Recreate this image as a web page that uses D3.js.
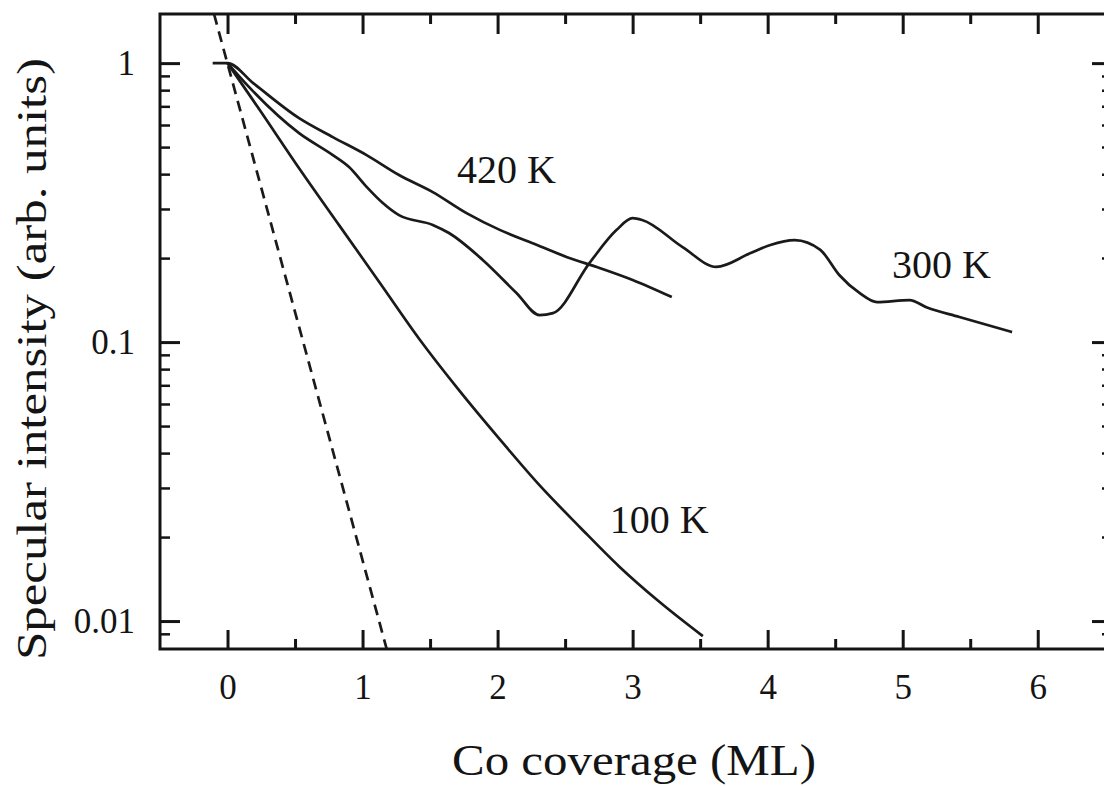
<!DOCTYPE html>
<html>
<head>
<meta charset="utf-8">
<script src="https://cdn.jsdelivr.net/npm/d3@7"></script>
<style>
  html, body { margin: 0; padding: 0; background: #fff; }
  svg { display: block; }
  text { font-family: "Liberation Serif", "Times New Roman", Times, serif; fill: #141414; }
</style>
</head>
<body>
<script>
// Specular intensity vs. Co coverage at three substrate temperatures (log scale)

// 100 K
const coverage100 = [0, 0.24, 0.53, 0.83, 1.13, 1.42, 1.72, 2.02, 2.31, 2.61, 2.9, 3.2, 3.52];
const intensity100 = [1, 0.678, 0.42, 0.261, 0.1625, 0.1026, 0.0667, 0.0446, 0.0307, 0.0217, 0.0157, 0.0117, 0.00883];

// 300 K
const coverage300 = [0, 0.16, 0.53, 0.78, 0.9, 1.03, 1.15, 1.27, 1.52, 1.64, 1.89, 2.14, 2.31, 2.41, 2.68, 2.88, 3.0, 3.07,
                     3.37, 3.62, 3.87, 4.02, 4.2, 4.39, 4.53, 4.68, 4.81, 5.05, 5.18, 5.42, 5.81];
const intensity300 = [1, 0.82, 0.561, 0.468, 0.424, 0.36, 0.315, 0.285, 0.263, 0.246, 0.197, 0.15, 0.125, 0.127, 0.192, 0.252, 0.278, 0.274,
                      0.219, 0.186, 0.208, 0.223, 0.232, 0.214, 0.174, 0.15, 0.139, 0.1415, 0.133, 0.123, 0.1086];

// 420 K
const coverage420 = [-0.11, 0, 0.19, 0.53, 0.78, 1.03, 1.27, 1.52, 1.77, 2.02, 2.26, 2.51, 2.76, 3.0, 3.29];
const intensity420 = [1, 1, 0.848, 0.635, 0.543, 0.468, 0.397, 0.345, 0.29, 0.252, 0.226, 0.202, 0.184, 0.167, 0.145];

// Reference layer-by-layer decay (dashed)
const coverageRef = [-0.1, 1.18];
const intensityRef = [1.5, 0.0079];

// Curve labels
const labelText = ["420 K", "300 K", "100 K"];
const labelCoverage = [1.70, 4.92, 2.83];
const labelIntensity = [0.371, 0.17, 0.0207];

// Ticks
const xMajorTicks = [0, 1, 2, 3, 4, 5, 6];
const xMinorTicks = [0.5, 1.5, 2.5, 3.5, 4.5, 5.5];
const yMajorTicks = [0.01, 0.1, 1];
const yTickLabels = ["0.01", "0.1", "1"];
const yMinorTicks = [0.009, 0.02, 0.03, 0.04, 0.05, 0.06, 0.07, 0.08, 0.09,
                     0.2, 0.3, 0.4, 0.5, 0.6, 0.7, 0.8, 0.9];

const xTitle = "Co coverage (ML)";
const yTitle = "Specular intensity (arb. units)";

const W = 1104, H = 786;
const plot = { left: 160, right: 1112, top: 14, bottom: 649 };

const svg = d3.select("body").append("svg").attr("width", W).attr("height", H);

const x = d3.scaleLinear().domain([-0.5, 6.55]).range([plot.left, plot.right]);
const y = d3.scaleLog().domain([0.00794, 1.5]).range([plot.bottom, plot.top]);

svg.append("defs").append("clipPath").attr("id", "plotArea")
  .append("rect")
  .attr("x", plot.left).attr("y", plot.top)
  .attr("width", plot.right - plot.left).attr("height", plot.bottom - plot.top);

function styleAxis(g, width) {
  g.select(".domain").remove();
  g.selectAll(".tick line").attr("stroke", "#141414").attr("stroke-width", width);
  g.selectAll(".tick text").attr("font-size", 35).attr("fill", "#141414")
    .style("font-family", "'Liberation Serif', 'Times New Roman', serif");
}

// Bottom axis (inward ticks, labelled)
svg.append("g").attr("transform", `translate(0,${plot.bottom})`)
  .call(d3.axisBottom(x).tickValues(xMajorTicks).tickSizeInner(-19).tickSizeOuter(0)
    .tickPadding(25).tickFormat(d3.format("d")))
  .call(g => styleAxis(g, 3));
svg.append("g").attr("transform", `translate(0,${plot.bottom})`)
  .call(d3.axisBottom(x).tickValues(xMinorTicks).tickSizeInner(-10).tickSizeOuter(0).tickFormat(""))
  .call(g => styleAxis(g, 3));

// Top axis (inward ticks, no labels)
svg.append("g").attr("transform", `translate(0,${plot.top})`)
  .call(d3.axisTop(x).tickValues(xMajorTicks).tickSizeInner(-20).tickSizeOuter(0).tickFormat(""))
  .call(g => styleAxis(g, 3));
svg.append("g").attr("transform", `translate(0,${plot.top})`)
  .call(d3.axisTop(x).tickValues(xMinorTicks).tickSizeInner(-10).tickSizeOuter(0).tickFormat(""))
  .call(g => styleAxis(g, 3));

// Left axis (inward ticks, labelled)
svg.append("g").attr("transform", `translate(${plot.left},0)`)
  .call(d3.axisLeft(y).tickValues(yMajorTicks).tickSizeInner(-20).tickSizeOuter(0)
    .tickPadding(25).tickFormat((d, i) => yTickLabels[i]))
  .call(g => styleAxis(g, 3));
svg.append("g").attr("transform", `translate(${plot.left},0)`)
  .call(d3.axisLeft(y).tickValues(yMinorTicks).tickSizeInner(-10).tickSizeOuter(0).tickFormat(""))
  .call(g => styleAxis(g, 2.5));

// Right axis (inward ticks, no labels)
svg.append("g").attr("transform", `translate(${plot.right},0)`)
  .call(d3.axisRight(y).tickValues(yMajorTicks).tickSizeInner(-20).tickSizeOuter(0).tickFormat(""))
  .call(g => styleAxis(g, 3));
svg.append("g").attr("transform", `translate(${plot.right},0)`)
  .call(d3.axisRight(y).tickValues(yMinorTicks).tickSizeInner(-10).tickSizeOuter(0).tickFormat(""))
  .call(g => styleAxis(g, 2.5));

// Frame
svg.append("rect")
  .attr("x", plot.left).attr("y", plot.top)
  .attr("width", plot.right - plot.left).attr("height", plot.bottom - plot.top)
  .attr("fill", "none").attr("stroke", "#141414").attr("stroke-width", 3);

// Curves
const line = d3.line()
  .x(d => x(d[0]))
  .y(d => y(d[1]))
  .curve(d3.curveMonotoneX);

const series = [
  { cov: coverage420, val: intensity420, dash: null },
  { cov: coverage300, val: intensity300, dash: null },
  { cov: coverage100, val: intensity100, dash: null },
  { cov: coverageRef, val: intensityRef, dash: "11,7" }
];

const curves = svg.append("g").attr("clip-path", "url(#plotArea)");
series.forEach(s => {
  const pts = s.cov.map((c, i) => [c, s.val[i]]);
  curves.append("path")
    .attr("d", line(pts))
    .attr("fill", "none")
    .attr("stroke", "#1a1a1a")
    .attr("stroke-width", 2.7)
    .attr("stroke-linejoin", "round")
    .attr("stroke-linecap", "butt")
    .attr("stroke-dasharray", s.dash);
});

// Curve labels
svg.append("g").selectAll("text")
  .data(labelText)
  .join("text")
  .attr("x", (d, i) => x(labelCoverage[i]))
  .attr("y", (d, i) => y(labelIntensity[i]))
  .attr("text-anchor", "start")
  .attr("font-size", 40)
  .text(d => d);

// Axis titles
svg.append("text")
  .attr("x", 452).attr("y", 775)
  .attr("font-size", 44)
  .attr("textLength", 364)
  .attr("lengthAdjust", "spacingAndGlyphs")
  .text(xTitle);

svg.append("text")
  .attr("transform", "translate(46,660) rotate(-90)")
  .attr("x", 0).attr("y", 0)
  .attr("font-size", 42)
  .attr("textLength", 602)
  .attr("lengthAdjust", "spacingAndGlyphs")
  .text(yTitle);
</script>
</body>
</html>
